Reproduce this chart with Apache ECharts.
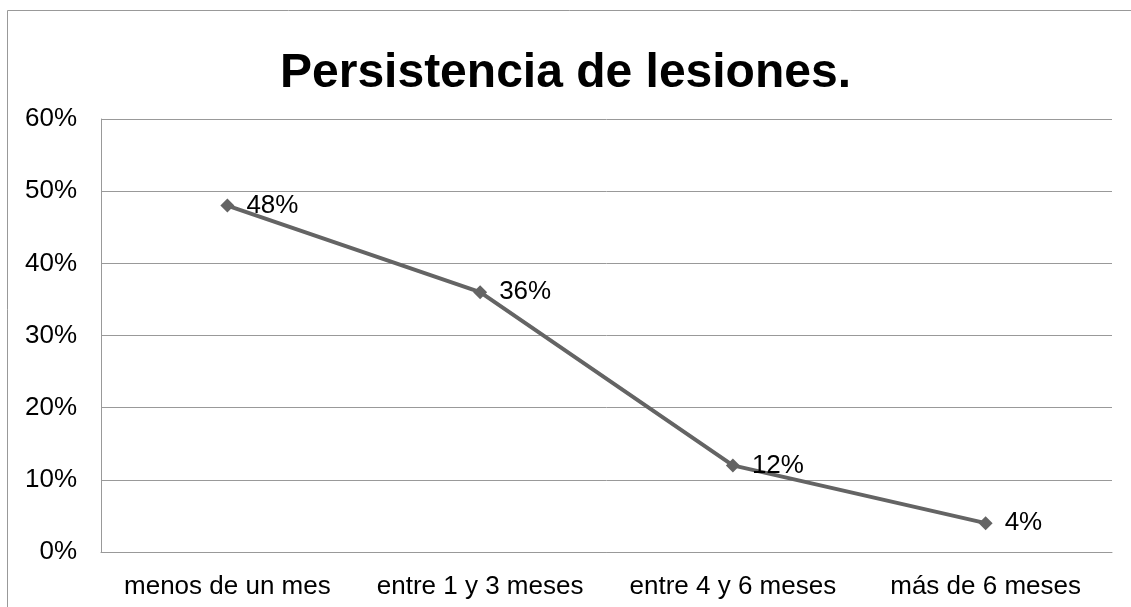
<!DOCTYPE html>
<html>
<head>
<meta charset="utf-8">
<script src="https://cdn.jsdelivr.net/npm/echarts@6/dist/echarts.min.js"></script>
<style>
    html, body { margin: 0; padding: 0; background: #fff; }
    #chart { width: 1131px; height: 607px; }
</style>
</head>
<body>
<div id="chart"></div>
<script>
// data
var categories = ["menos de un mes", "entre 1 y 3 meses", "entre 4 y 6 meses", "más de 6 meses"];
var values = [48, 36, 12, 4];
var yTicks = [0, 10, 20, 30, 40, 50, 60];

var chart = echarts.init(document.getElementById("chart"));
chart.setOption({
    animation: false,
    textStyle: { fontFamily: "Liberation Sans, Arial, sans-serif" },
    title: {
        text: "Persistencia de lesiones.",
        left: "center",
        top: 45,
        textStyle: { fontSize: 48, fontWeight: "bold", color: "#000", fontFamily: "Liberation Sans, Arial, sans-serif" },
    },
    graphic: [
        {
            type: "rect",
            shape: { x: 7.5, y: 10.5, width: 1300, height: 800 },
            style: { fill: "none", stroke: "#999", lineWidth: 1 },
            silent: true,
        },
    ],
    grid: {
        left: 101,
        right: 19,
        top: 119,
        bottom: 55,
    },
    xAxis: {
        type: "category",
        data: categories,
        boundaryGap: true,
        axisLine: { show: true, lineStyle: { color: "#999", width: 1 } },
        axisTick: { show: false },
        axisLabel: { color: "#000", fontSize: 26, margin: 22, interval: 0, hideOverlap: false },
    },
    yAxis: {
        type: "value",
        min: yTicks[0],
        max: yTicks[yTicks.length - 1],
        interval: 10,
        axisLine: { show: true, lineStyle: { color: "#999", width: 1 } },
        axisTick: { show: false },
        splitLine: { show: true, lineStyle: { color: "#999", width: 1 } },
        axisLabel: {
            color: "#000",
            fontSize: 26,
            margin: 24,
            formatter: function (v) { return v + "%"; },
        },
    },
    series: [
        {
            type: "line",
            data: values,
            symbol: "diamond",
            symbolSize: 14,
            itemStyle: { color: "#646464" },
            lineStyle: { color: "#646464", width: 4 },
            label: {
                show: true,
                position: "right",
                distance: 12,
                color: "#000",
                fontSize: 26,
                formatter: function (p) { return p.value + "%"; },
            },
        },
    ],
});
</script>
</body>
</html>
